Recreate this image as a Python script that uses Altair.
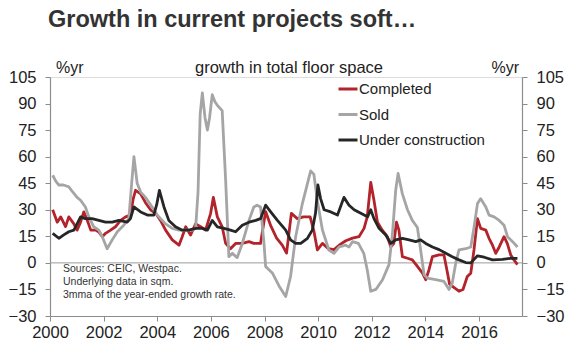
import altair as alt
import pandas as pd

# ---- data (3mma of year-ended growth, %) ----
completed_t = [2000.10, 2000.27, 2000.40, 2000.58, 2000.70, 2000.89, 2001.01, 2001.14, 2001.26, 2001.39,
               2001.52, 2001.70, 2001.82, 2001.95, 2002.07, 2002.26, 2002.44, 2002.63, 2002.82, 2003.00,
               2003.10, 2003.19, 2003.38, 2003.56, 2003.75, 2003.94, 2004.12, 2004.31, 2004.56, 2004.81,
               2004.93, 2005.06, 2005.24, 2005.43, 2005.62, 2005.80, 2005.99, 2006.09, 2006.24, 2006.42,
               2006.55, 2006.73, 2006.92, 2007.17, 2007.42, 2007.60, 2007.85, 2008.04, 2008.23, 2008.45,
               2008.66, 2008.82, 2009.00, 2009.22, 2009.45, 2009.70, 2009.84, 2009.97, 2010.16, 2010.38,
               2010.59, 2010.78, 2011.03, 2011.28, 2011.52, 2011.71, 2011.83, 2011.96, 2012.08, 2012.21,
               2012.39, 2012.58, 2012.71, 2012.82, 2012.92, 2013.01, 2013.14, 2013.33, 2013.51, 2013.70,
               2013.89, 2014.01, 2014.13, 2014.26, 2014.51, 2014.69, 2014.80, 2014.90, 2015.07, 2015.25,
               2015.40, 2015.56, 2015.69, 2015.81, 2015.94, 2016.06, 2016.25, 2016.37, 2016.50, 2016.62,
               2016.75, 2016.93, 2017.05, 2017.18, 2017.30, 2017.43]
completed_v = [30, 23, 26, 20.5, 26, 22, 18.5, 23, 28.8, 24,
               18.5, 18.5, 17.5, 14.8, 16.7, 18.5, 20.4, 24, 26, 27,
               36, 41, 39, 34, 30, 28, 24, 18.5, 13, 10,
               14.8, 20.4, 15.7, 22, 20.4, 18.5, 28, 37, 26, 20.4,
               11, 8, 11, 11, 12, 11, 11, 29, 21, 14,
               10, 5.5, 28, 25, 26, 26, 18, 7.3, 11, 8,
               7.5, 10, 12.5, 14, 14.8, 19.5, 26, 45.5, 35.4, 23,
               18.5, 14.8, 9, 11, 23, 18.5, 3.5, 2.6, 1.7, -2,
               -5.8, -9.5, -4, 3.5, 4.5, 4.5, -4, -12, -14, -16,
               -15, -7.7, -5.8, 7.3, 25, 19.5, 18.5, 13.9, 10, 5.4,
               9, 14.8, 11, 4.5, 1.7, -1]

sold_t = [2000.10, 2000.22, 2000.33, 2000.50, 2000.70, 2000.80, 2001.01, 2001.14, 2001.32, 2001.45,
          2001.63, 2001.82, 2001.95, 2002.13, 2002.32, 2002.51, 2002.75, 2002.94, 2003.04, 2003.13,
          2003.25, 2003.38, 2003.56, 2003.81, 2004.00, 2004.31, 2004.56, 2004.81, 2005.06, 2005.30,
          2005.43, 2005.52, 2005.60, 2005.68, 2005.78, 2005.87, 2005.95, 2006.05, 2006.15, 2006.24,
          2006.42, 2006.55, 2006.67, 2006.80, 2006.98, 2007.17, 2007.42, 2007.60, 2007.72, 2007.85,
          2007.98, 2008.04, 2008.29, 2008.54, 2008.79, 2008.97, 2009.16, 2009.41, 2009.72, 2009.84,
          2009.97, 2010.16, 2010.40, 2010.59, 2010.78, 2011.03, 2011.15, 2011.28, 2011.50, 2011.70,
          2011.83, 2011.96, 2012.15, 2012.40, 2012.64, 2012.77, 2012.89, 2012.98, 2013.14, 2013.33,
          2013.51, 2013.70, 2013.82, 2013.95, 2014.07, 2014.38, 2014.69, 2014.88, 2015.00, 2015.13,
          2015.25, 2015.50, 2015.69, 2015.81, 2015.94, 2016.06, 2016.25, 2016.37, 2016.56, 2016.75,
          2016.93, 2017.06, 2017.25, 2017.43]
sold_v = [49.5, 46, 44, 44, 43, 41, 37, 35.4, 31.6, 26,
          20.4, 18.5, 14.8, 8, 13, 17.6, 21.3, 25, 44, 60,
          45, 40, 37, 31.5, 27, 22, 19.5, 18.5, 18.5, 18.5,
          19.5, 40, 84, 96, 82, 75, 82, 95, 91, 89,
          86, 46.5, 3.5, 5.4, 3, 11, 24, 31.6, 32.6, 31.6,
          11, -2, -5.7, -13, -19, -7.7, 14.8, 33.5, 52, 50,
          35, 18.5, 7.3, 5.4, 9, 10, 9, 12, 11, 5.4,
          -4, -16, -15, -9.5, -1, 16.7, 41, 50.5, 39, 30,
          24, 20, 7.3, -6.7, -8.6, -9.5, -10.5, -15, -11.4, 0,
          7.3, 8, 9, 20, 33.5, 36.3, 31.6, 27, 26, 24,
          21.3, 14.8, 12, 9]

under_t = [2000.10, 2000.33, 2000.50, 2000.70, 2000.89, 2001.01, 2001.14, 2001.32, 2001.57, 2001.82,
           2002.07, 2002.32, 2002.57, 2002.88, 2003.00, 2003.13, 2003.38, 2003.63, 2003.87, 2003.98,
           2004.08, 2004.25, 2004.43, 2004.68, 2004.93, 2005.18, 2005.43, 2005.68, 2005.87, 2006.05,
           2006.24, 2006.49, 2006.73, 2006.92, 2007.17, 2007.42, 2007.67, 2007.85, 2008.04, 2008.23,
           2008.48, 2008.79, 2008.97, 2009.16, 2009.35, 2009.60, 2009.78, 2009.90, 2009.99, 2010.09,
           2010.22, 2010.47, 2010.72, 2010.96, 2011.15, 2011.34, 2011.59, 2011.84, 2011.96, 2012.08,
           2012.27, 2012.52, 2012.71, 2012.89, 2013.14, 2013.39, 2013.64, 2013.82, 2014.01, 2014.26,
           2014.51, 2014.76, 2015.00, 2015.25, 2015.50, 2015.69, 2015.94, 2016.19, 2016.50, 2016.87,
           2017.18, 2017.43]
under_v = [16.7, 13.9, 15.7, 17.6, 18.5, 22, 26, 25, 25, 24,
           23, 23, 24, 23, 25, 31.6, 28.8, 27, 27, 33,
           41, 31.6, 24, 20.4, 18.5, 18.5, 19.5, 19.5, 18.5, 24,
           20.4, 19.5, 18.5, 17.6, 21.3, 23, 24, 25, 32.6, 28.8,
           24, 18.5, 13, 11, 11, 13.9, 18.5, 28, 44, 36.3,
           30, 28.8, 27, 37, 32.6, 30, 28, 26, 30, 25,
           19.5, 15.7, 11, 13, 13.9, 13, 12, 13, 11, 9,
           7.5, 5.4, 3.5, 1.7, 0.2, 0, 4, 3.2, 1.7, 2,
           2.6, 2.6]

series_names = ["Completed", "Sold", "Under construction"]
series_colors = ["#b3232b", "#a5a5a5", "#262626"]
y_ticks = [-30, -15, 0, 15, 30, 45, 60, 75, 90, 105]
x_ticks = [2000, 2002, 2004, 2006, 2008, 2010, 2012, 2014, 2016]

title_text = "Growth in current projects soft…"
header_mid = "growth in total floor space"
unit_text = "%yr"
source_text = "Sources: CEIC, Westpac.\nUnderlying data in sqm.\n3mma of the year-ended growth rate."

frames = []
for name, t, v in [("Completed", completed_t, completed_v),
                   ("Sold", sold_t, sold_v),
                   ("Under construction", under_t, under_v)]:
    frames.append(pd.DataFrame({"t": t, "v": v, "series": name}))
df = pd.concat(frames, ignore_index=True)

FONT = "Liberation Sans"
AX = "#8c8c8c"
TXT = "#222222"

yscale = alt.Scale(domain=[-30, 105], nice=False, zero=False)
xscale = alt.Scale(domain=[2000, 2017.6], nice=False, zero=False)

axis_common = dict(title=None, grid=False, domainColor=AX, tickColor=AX, tickSize=5,
                   labelColor=TXT, labelFontSize=16.5, labelFont=FONT, domainWidth=1.2,
                   labelFlush=False, labelOverlap=False)

lines = alt.Chart(df).mark_line(strokeWidth=2.8, strokeJoin="round").encode(
    x=alt.X("t:Q", scale=xscale,
            axis=alt.Axis(values=x_ticks, format="d", labelPadding=3, **axis_common)),
    y=alt.Y("v:Q", scale=yscale,
            axis=alt.Axis(values=y_ticks, orient="left", labelPadding=9, **axis_common)),
    color=alt.Color("series:N", sort=series_names,
                    scale=alt.Scale(domain=series_names, range=series_colors),
                    legend=alt.Legend(title=None, orient="none", legendX=287, legendY=1,
                                      symbolType="stroke", symbolStrokeWidth=3, symbolSize=361,
                                      labelFontSize=15, labelFont=FONT, labelColor=TXT,
                                      rowPadding=6.5, labelOffset=0, padding=0)),
    order=alt.Order("series:N"),
)

zero = alt.Chart(pd.DataFrame({"v": [0]})).mark_rule(color="#9a9a9a", strokeWidth=1).encode(
    y=alt.Y("v:Q", scale=yscale,
            axis=alt.Axis(values=y_ticks, orient="right", labelPadding=9, **axis_common)),
)

title = alt.Chart(pd.DataFrame({"s": [title_text]})).mark_text(
    align="left", baseline="middle", fontSize=23.5, fontWeight="bold", font=FONT, color="#333333"
).encode(text="s:N", x=alt.value(-2), y=alt.value(-57))

hdr_left = alt.Chart(pd.DataFrame({"s": [unit_text]})).mark_text(
    align="left", baseline="middle", fontSize=16, font=FONT, color=TXT
).encode(text="s:N", x=alt.value(6), y=alt.value(-9))

hdr_mid = alt.Chart(pd.DataFrame({"s": [header_mid]})).mark_text(
    align="center", baseline="middle", fontSize=16.5, font=FONT, color=TXT
).encode(text="s:N", x=alt.value(239), y=alt.value(-9))

hdr_right = alt.Chart(pd.DataFrame({"s": [unit_text]})).mark_text(
    align="right", baseline="middle", fontSize=16, font=FONT, color=TXT
).encode(text="s:N", x=alt.value(469), y=alt.value(-9))

src = alt.Chart(pd.DataFrame({"s": [source_text]})).mark_text(
    align="left", baseline="top", fontSize=10.5, font=FONT, color="#333333",
    lineBreak="\n", lineHeight=13
).encode(text="s:N", x=alt.value(13), y=alt.value(187))

chart = alt.layer(zero, lines, title, hdr_left, hdr_mid, hdr_right, src).resolve_axis(
    y="independent"
).properties(
    width=472, height=239,
    autosize=alt.AutoSizeParams(type="none"),
    padding={"left": 50, "top": 77, "right": 58, "bottom": 36},
).configure_view(stroke=AX, strokeWidth=1).configure(font=FONT, background="white")

chart.save("out.html", embed_options={"renderer": "svg", "actions": False})
